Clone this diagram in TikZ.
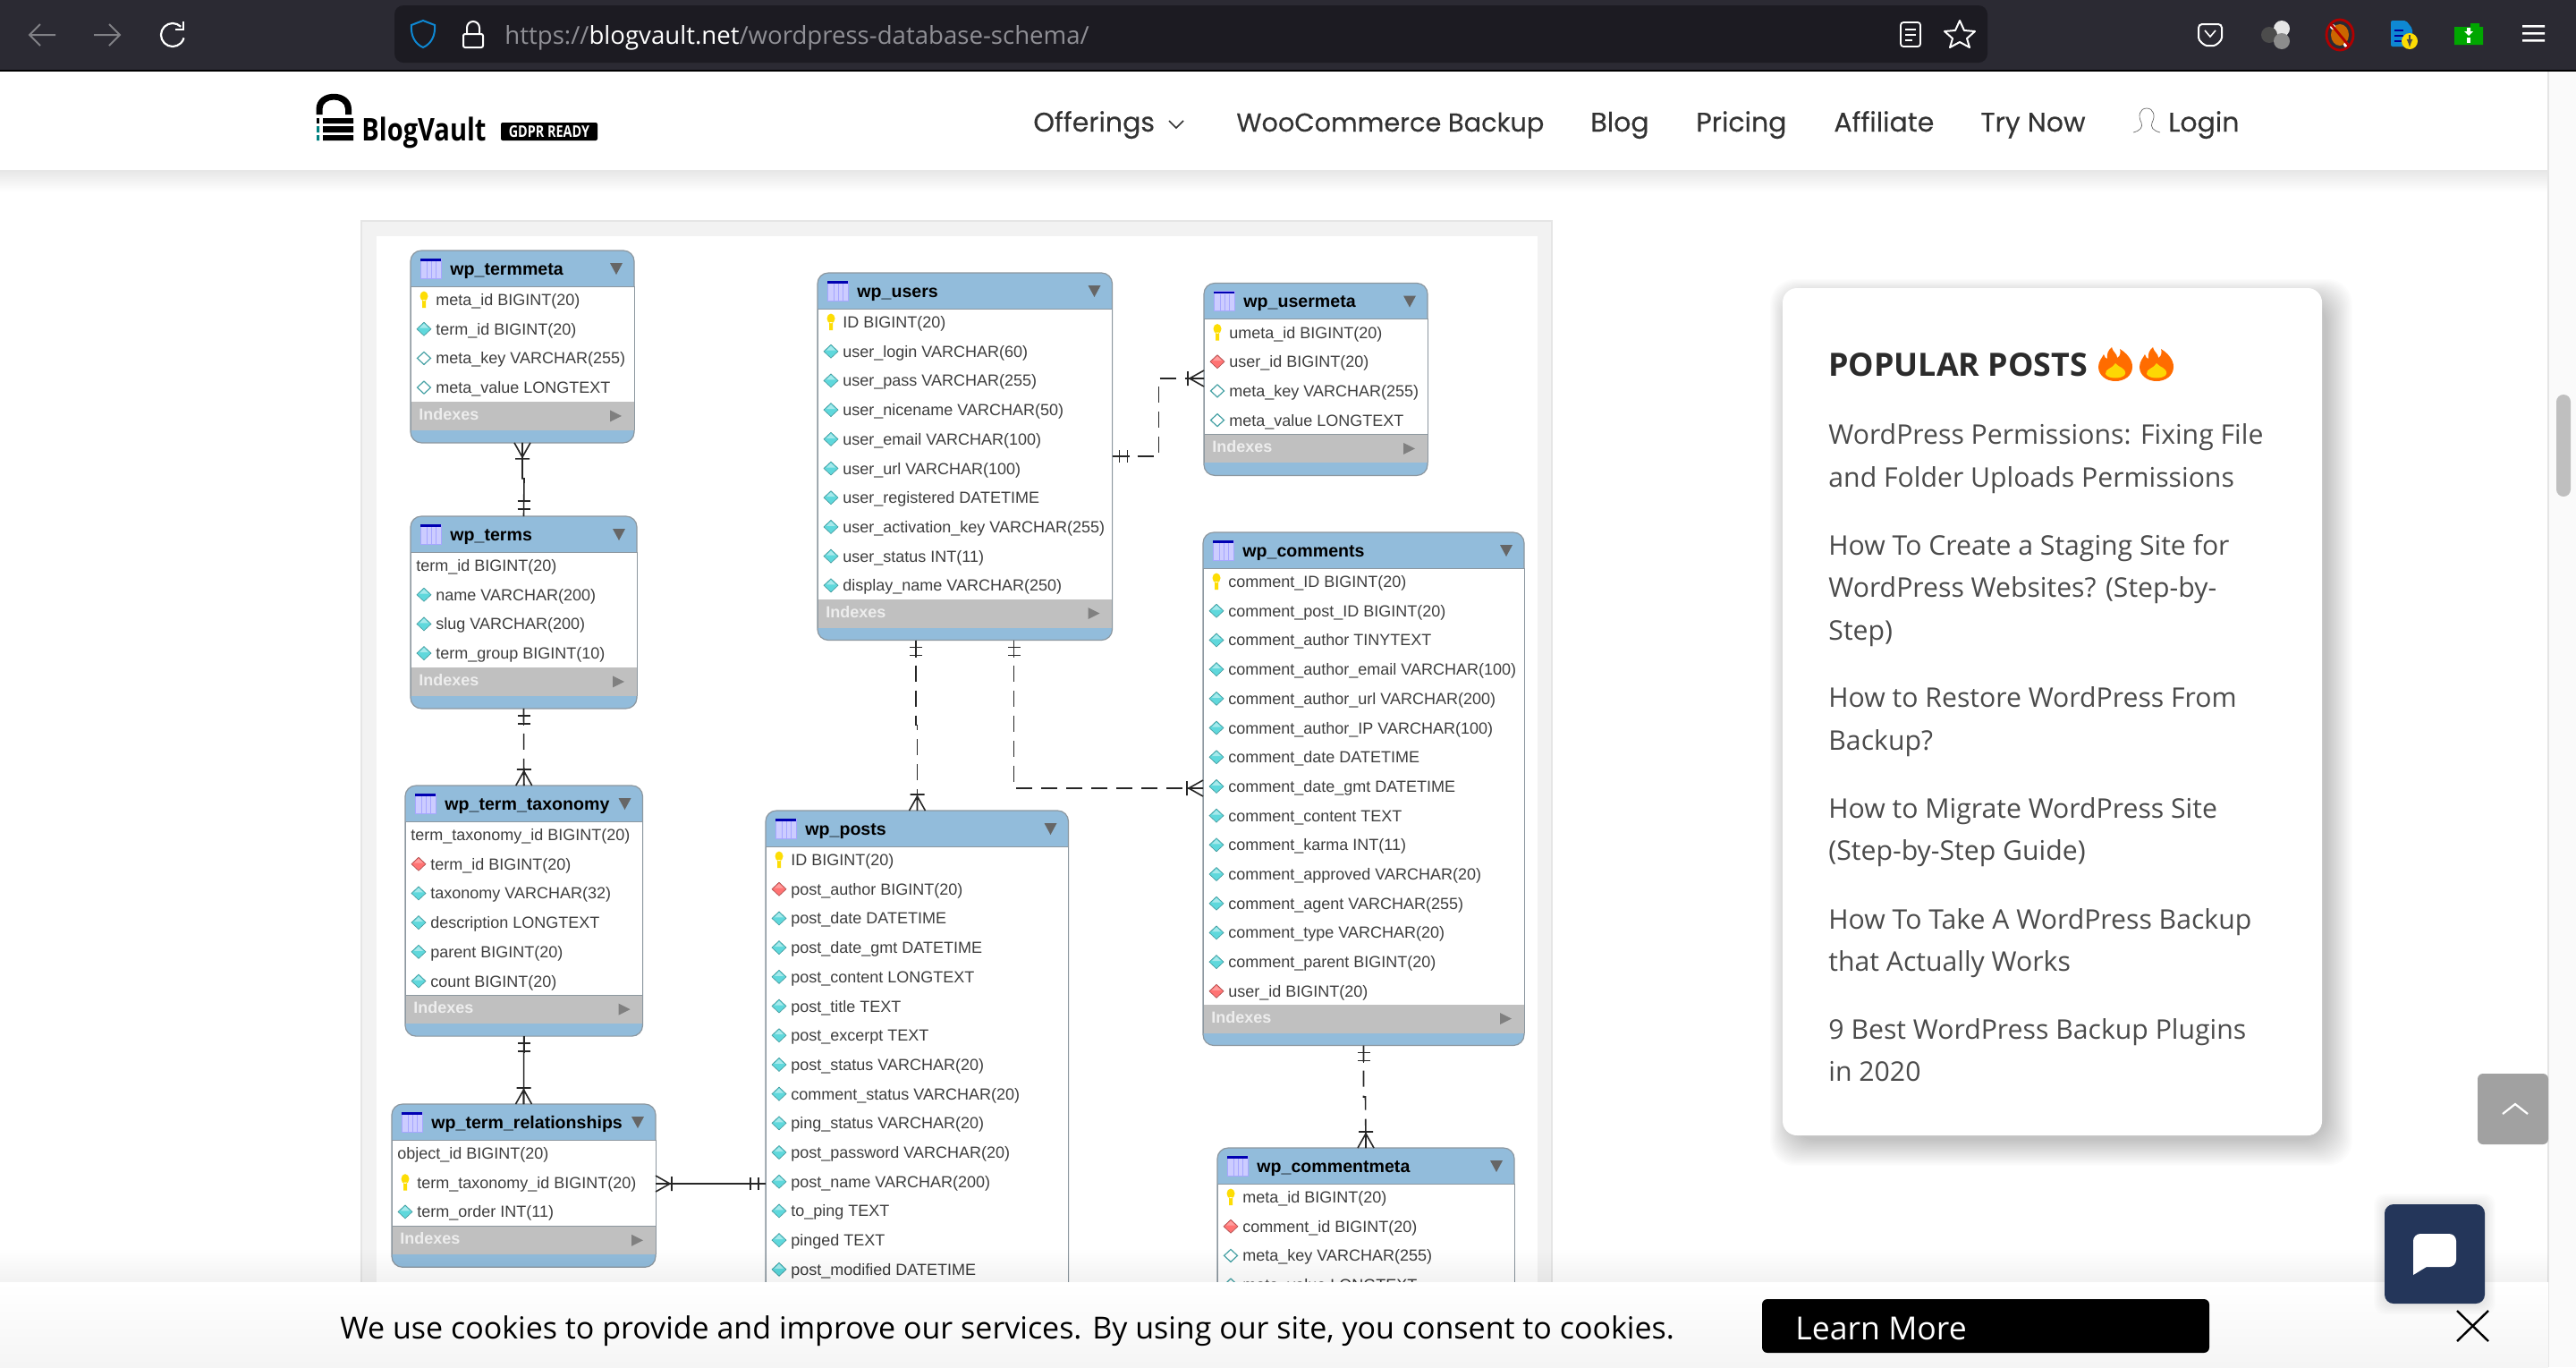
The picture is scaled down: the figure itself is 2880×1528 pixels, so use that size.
\documentclass[tikz,border=0pt]{standalone}
\usepackage{fontspec}
\usepackage{graphicx}
\usetikzlibrary{arrows}
\newfontfamily\erdfont{Liberation Sans}
\newfontfamily\pagefont{Open Sans}
\newfontfamily\navfont[FakeBold=0.25]{Poppins}
\definecolor{toolbar}{HTML}{2B2A33}
\definecolor{urlbox}{HTML}{1C1B22}
\definecolor{urlgrey}{HTML}{8F8F95}
\definecolor{tablehead}{HTML}{92BCDB}
\definecolor{tableedge}{HTML}{8C979F}
\definecolor{bandgrey}{HTML}{C0C0C0}
\definecolor{rowink}{HTML}{3E3E3E}
\definecolor{aqua}{HTML}{5FD8DC}
\definecolor{navink}{HTML}{333333}
\definecolor{postink}{HTML}{4B4B4B}
\definecolor{chatblue}{HTML}{24365A}
\tikzset{
  erd box/.style={shape=rectangle,draw=tableedge,fill=tablehead,rounded corners=6pt,line width=0.6pt,inner sep=0pt,outer sep=0pt,anchor=north west},
  erd title/.style={anchor=base west,inner sep=0pt,text=black,font=\erdfont\bfseries\fontsize{9.8}{12}\selectfont},
  erd row/.style={anchor=base west,inner sep=0pt,text=rowink,font=\erdfont\fontsize{9}{11}\selectfont},
  erd band/.style={anchor=base west,inner sep=0pt,text=white!93!black,font=\erdfont\bfseries\fontsize{9}{11}\selectfont},
  erd solid/.style={draw=black!85,line width=0.8pt},
  erd dashed/.style={draw=black!85,line width=0.8pt,dash pattern=on 9pt off 5pt},
  nav item/.style={anchor=base west,inner sep=0pt,text=navink,font=\navfont\fontsize{15}{18}\selectfont},
  post line/.style={anchor=base west,inner sep=0pt,text=postink,font=\pagefont\fontsize{15.1}{18}\selectfont},
  crowfoot/.pic={\draw[erd solid] (0,-9) -- (16,0) -- (0,9) (0,0) -- (18,0) (18,-8) -- (18,8);},
  twobars/.pic={\draw[erd solid] (0,0) -- (19,0) (8,-7) -- (8,7) (17,-7) -- (17,7);},
  keyicon/.pic={\fill[yellow!80!orange] (0,-4) ellipse (4.5 and 5.5) (-2,0) rectangle (2,9);},
  fillicon/.pic={\draw[fill=aqua,draw=aqua!70!black,line width=0.3pt] (-8,0) -- (0,-7.5) -- (8,0) -- (0,7.5) -- cycle;\fill[white,opacity=.45] (-5,-1) -- (0,-6) -- (5,-1) -- cycle;},
  redicon/.pic={\draw[fill=red!55!white,draw=red!50!black!70,line width=0.3pt] (-8,0) -- (0,-7.5) -- (8,0) -- (0,7.5) -- cycle;\fill[white,opacity=.3] (-5,-1) -- (0,-6) -- (5,-1) -- cycle;},
  openicon/.pic={\draw[fill=white,draw=aqua!75!black,line width=0.6pt] (-7.5,0) -- (0,-7) -- (7.5,0) -- (0,7) -- cycle;},
  noicon/.pic={},
  flame/.pic={
    \fill[orange!85!red] (-4,-19) .. controls (-2,-12) and (2,-12) .. (2,-7) .. controls (6,-9) and (6,-14) .. (5,-17) .. controls (13,-12) and (19,-5) .. (19,3) .. controls (19,13) and (10,19) .. (0,19) .. controls (-11,19) and (-19,12) .. (-19,3) .. controls (-19,-3) and (-15,-7) .. (-13,-11) .. controls (-12,-8) and (-11,-6) .. (-9,-6) .. controls (-10,-11) and (-8,-16) .. (-4,-19) -- cycle;
    \fill[yellow!75!orange] (0,-1) .. controls (4,4) and (12,4) .. (11,11) .. controls (9,17) and (-9,17) .. (-11,11) .. controls (-12,5) and (-3,5) .. (0,-1) -- cycle;},
}
% one table: name, left, right, top, number of rows, title, rows
\newcommand{\erdtable}[7]{
  \pgfmathsetmacro{\erdw}{(#3-#2)/2}
  \pgfmathsetmacro{\erdh}{(84.5+32.6*#5)/2}
  \pgfmathsetmacro{\erdhead}{#4+40}
  \pgfmathsetmacro{\erdband}{#4+39+32.6*#5}
  \node[erd box,minimum width=\erdw pt,minimum height=\erdh pt] (#1) at (#2,#4) {};
  \draw[fill=white,draw=tableedge,line width=0.5pt] (#2,\erdhead) rectangle (#3,\erdband);
  \fill[bandgrey] (#2,\erdband) rectangle (#3,\erdband+31.5);
  \draw[tableedge,line width=0.5pt] (#2,\erdband) -- (#2,\erdband+31.5) (#3,\erdband) -- (#3,\erdband+31.5);
  % small table icon and the two triangles
  \draw[fill=blue!20!white,draw=blue!35!white,line width=0.3pt] (#2+11,#4+9) rectangle (#2+34,#4+31);
  \fill[blue!70!black] (#2+11,#4+9) rectangle (#2+34,#4+11.5);
  \draw[blue!35!white,line width=0.3pt] (#2+18,#4+12) -- (#2+18,#4+31) (#2+23,#4+12) -- (#2+23,#4+31) (#2+28,#4+12) -- (#2+28,#4+31);
  \fill[black!60] (#3-27,#4+14) -- (#3-13,#4+14) -- (#3-20,#4+27) -- cycle;
  \fill[black!50] (#3-27,\erdband+9) -- (#3-14,\erdband+15.5) -- (#3-27,\erdband+22) -- cycle;
  \node[erd title] (#1-title) at (#2+44,#4+27) {#6};
  \node[erd band] (#1-band) at (#2+9,\erdband+20) {Indexes};
  \foreach \kind/\txt [count=\i] in {#7}{
    \pgfmathsetmacro{\rowy}{\erdhead+15+32.7*(\i-1)}
    \def\nokind{noicon}
    \ifx\kind\nokind\def\rowx{6}\else\def\rowx{28}\fi
    \pic at (#2+15,\rowy) {\kind};
    \node[erd row] (#1-\i) at (#2+\rowx,\rowy+6.5) {\txt};
  }
}
\begin{document}
\begin{tikzpicture}[x=0.5pt,y=-0.5pt]
\useasboundingbox (0,0) rectangle (2880,1528);
\fill[white] (0,0) rectangle (2880,1528);
% article picture frame
\draw[fill=black!5,draw=black!10,line width=1pt] (404,247) rectangle (1735,1500);
\fill[white] (421,264) rectangle (1719,1500);

\erdtable{wp_termmeta}{459}{709}{280}{4}{wp\_termmeta}{keyicon/meta\_id BIGINT(20),fillicon/term\_id BIGINT(20),openicon/meta\_key VARCHAR(255),openicon/meta\_value LONGTEXT}
\erdtable{wp_terms}{459}{712}{577}{4}{wp\_terms}{noicon/term\_id BIGINT(20),fillicon/name VARCHAR(200),fillicon/slug VARCHAR(200),fillicon/term\_group BIGINT(10)}
\erdtable{wp_term_taxonomy}{453}{718.5}{878}{6}{wp\_term\_taxonomy}{noicon/term\_taxonomy\_id BIGINT(20),redicon/term\_id BIGINT(20),fillicon/taxonomy VARCHAR(32),fillicon/description LONGTEXT,fillicon/parent BIGINT(20),fillicon/count BIGINT(20)}
\erdtable{wp_term_relationships}{438}{733}{1234}{3}{wp\_term\_relationships}{noicon/object\_id BIGINT(20),keyicon/term\_taxonomy\_id BIGINT(20),fillicon/term\_order INT(11)}
\erdtable{wp_users}{914}{1243.5}{305}{10}{wp\_users}{keyicon/ID BIGINT(20),fillicon/user\_login VARCHAR(60),fillicon/user\_pass VARCHAR(255),fillicon/user\_nicename VARCHAR(50),fillicon/user\_email VARCHAR(100),fillicon/user\_url VARCHAR(100),fillicon/user\_registered DATETIME,fillicon/user\_activation\_key VARCHAR(255),fillicon/user\_status INT(11),fillicon/display\_name VARCHAR(250)}
\erdtable{wp_posts}{856}{1194.5}{906}{15}{wp\_posts}{keyicon/ID BIGINT(20),redicon/post\_author BIGINT(20),fillicon/post\_date DATETIME,fillicon/post\_date\_gmt DATETIME,fillicon/post\_content LONGTEXT,fillicon/post\_title TEXT,fillicon/post\_excerpt TEXT,fillicon/post\_status VARCHAR(20),fillicon/comment\_status VARCHAR(20),fillicon/ping\_status VARCHAR(20),fillicon/post\_password VARCHAR(20),fillicon/post\_name VARCHAR(200),fillicon/to\_ping TEXT,fillicon/pinged TEXT,fillicon/post\_modified DATETIME}
\erdtable{wp_usermeta}{1346}{1596}{316.5}{4}{wp\_usermeta}{keyicon/umeta\_id BIGINT(20),redicon/user\_id BIGINT(20),openicon/meta\_key VARCHAR(255),openicon/meta\_value LONGTEXT}
\erdtable{wp_comments}{1345}{1704}{595}{15}{wp\_comments}{keyicon/comment\_ID BIGINT(20),fillicon/comment\_post\_ID BIGINT(20),fillicon/comment\_author TINYTEXT,fillicon/comment\_author\_email VARCHAR(100),fillicon/comment\_author\_url VARCHAR(200),fillicon/comment\_author\_IP VARCHAR(100),fillicon/comment\_date DATETIME,fillicon/comment\_date\_gmt DATETIME,fillicon/comment\_content TEXT,fillicon/comment\_karma INT(11),fillicon/comment\_approved VARCHAR(20),fillicon/comment\_agent VARCHAR(255),fillicon/comment\_type VARCHAR(20),fillicon/comment\_parent BIGINT(20),redicon/user\_id BIGINT(20)}
\erdtable{wp_commentmeta}{1361}{1693}{1283}{4}{wp\_commentmeta}{keyicon/meta\_id BIGINT(20),redicon/comment\_id BIGINT(20),openicon/meta\_key VARCHAR(255),openicon/meta\_value LONGTEXT}

\draw[erd solid] (wp_termmeta.south) -- ++(0,40) -- ++(2,0) -- (wp_terms.north);
\pic[rotate=-90] at (wp_termmeta.south) {crowfoot};
\pic[rotate=90] at (wp_terms.north) {twobars};
\draw[erd dashed] (wp_terms.south) -- (wp_term_taxonomy.north);
\pic[rotate=-90] at (wp_terms.south) {twobars};
\pic[rotate=90] at (wp_term_taxonomy.north) {crowfoot};
\draw[erd solid] (wp_term_taxonomy.south) -- (wp_term_relationships.north);
\pic[rotate=-90] at (wp_term_taxonomy.south) {twobars};
\pic[rotate=90] at (wp_term_relationships.north) {crowfoot};
\draw[erd solid] (wp_term_relationships.east |- 0,1323) -- (wp_posts.west |- 0,1323);
\pic at (wp_term_relationships.east |- 0,1323) {crowfoot};
\pic[rotate=180] at (wp_posts.west |- 0,1323) {twobars};
\draw[erd dashed] (wp_users.south -| 1024,0) -- ++(0,95) -- ++(1.5,0) -- (wp_posts.north -| 1025.5,0);
\pic[rotate=-90] at (wp_users.south -| 1024,0) {twobars};
\pic[rotate=90] at (wp_posts.north -| 1025.5,0) {crowfoot};
\draw[erd dashed] (wp_users.south -| 1133.5,0) |- (wp_comments.west |- 0,881);
\pic[rotate=-90] at (wp_users.south -| 1133.5,0) {twobars};
\pic[rotate=180] at (wp_comments.west |- 0,881) {crowfoot};
\draw[erd dashed] (wp_users.east |- 0,510) -- (1295.5,510) |- (wp_usermeta.west |- 0,423);
\pic at (wp_users.east |- 0,510) {twobars};
\pic[rotate=180] at (wp_usermeta.west |- 0,423) {crowfoot};
\draw[erd dashed] (wp_comments.south) -- ++(0,57.5) -- ++(2,0) -- (wp_commentmeta.north);
\pic[rotate=-90] at (wp_comments.south) {twobars};
\pic[rotate=90] at (wp_commentmeta.north) {crowfoot};

% browser bar
\fill[toolbar] (0,0) rectangle (2880,78);
\fill[black] (0,78) rectangle (2880,80);
\fill[urlbox,rounded corners=5pt] (441,6) rectangle (2222,70);
\draw[urlgrey!90!black,line width=1pt] (33,39) -- (62,39) (45,27) -- (33,39) -- (45,51);
\draw[urlgrey!90!black,line width=1pt] (105,39) -- (134,39) (122,27) -- (134,39) -- (122,51);
\draw[white,line width=1.1pt] (202.2,29.8) arc (-45:-345:13);
\draw[white,line width=1.1pt] (205,24) -- (205,33) -- (196,33);
\draw[cyan!70!blue,line width=1pt] (473,23) -- (486,28) .. controls (487,40) and (482,49) .. (473,53) .. controls (464,49) and (459,40) .. (460,28) -- cycle;
\draw[white,line width=1pt,rounded corners=1pt] (518,38) rectangle (540,53);
\draw[white,line width=1pt] (522,38) -- (522,31) arc (180:360:7) -- (536,38);
\node[anchor=base west,inner sep=0pt,font=\pagefont\fontsize{13.8}{16}\selectfont,text=urlgrey] (urltext) at (564,49) {https://\textcolor{white}{blogvault.net}/wordpress-database-schema/};
\draw[white,line width=0.9pt,rounded corners=1.5pt] (2125,25) rectangle (2147,52);
\draw[white,line width=0.9pt] (2130,33) -- (2142,33) (2130,39) -- (2142,39) (2130,45) -- (2138,45);
\draw[white,line width=1pt,line join=round] (2191,23) -- (2196,34) -- (2208,35) -- (2199,43) -- (2202,53) -- (2191,47) -- (2180,53) -- (2183,43) -- (2174,35) -- (2186,34) -- cycle;
\draw[white,line width=1pt,rounded corners=2pt] (2458,27) -- (2484,27) -- (2484,38) .. controls (2484,46) and (2477,51) .. (2471,51) .. controls (2465,51) and (2458,46) .. (2458,38) -- cycle;
\draw[white,line width=0.8pt] (2465,34) -- (2471,41) -- (2477,34);
\fill[black!10] (2551,32) circle (9);
\fill[black!70] (2537,39) circle (9);
\fill[black!45] (2551,46) circle (9);
\fill[orange!80!black] (2616,39) ellipse (10 and 12);
\fill[white] (2608,30) circle (3) (2623,50) circle (3);
\draw[red!70!black,line width=1.4pt] (2616,39) ellipse (15 and 17) (2606,27) -- (2626,51);
\fill[cyan!70!blue,rounded corners=1pt] (2673,23) -- (2690,23) -- (2697,32) -- (2697,52) -- (2673,52) -- cycle;
\draw[blue!60!black,line width=0.8pt] (2677,34) -- (2687,34) (2677,40) -- (2687,40) (2677,46) -- (2685,46);
\fill[yellow!80!orange] (2694,46) circle (9);
\draw[black!70,line width=0.6pt,-latex] (2694,39) -- (2694,53);
\fill[green!65!black] (2744,30) rectangle (2776,50) (2762,26) rectangle (2772,30);
\fill[white] (2758,31) rectangle (2762,35) (2755,35) -- (2765,35) -- (2760,40) -- cycle;
\fill[white] (2758,42) rectangle (2762,48);
\fill[white] (2820,28) rectangle (2845,30.5) (2820,36) rectangle (2845,38.5) (2820,44) rectangle (2845,46.5);

% site header
\foreach \i in {1,...,12}
  \fill[black,opacity=.006] (0,190) rectangle (2849,190+2*\i);
\fill[black] (353.5,128) -- (353.5,122) .. controls (353.5,99) and (393,99) .. (393,122) -- (393,128) -- (386,128) -- (386,122) .. controls (386,108) and (360.5,108) .. (360.5,122) -- (360.5,128) -- cycle;
\fill[black] (361,132) rectangle (395,138) (361,141) rectangle (395,148) (361,151) rectangle (395,157);
\fill[black] (354,132) rectangle (357,138);
\fill[teal] (354,141) rectangle (357,148) (354,151) rectangle (357,157);
\node[anchor=base west,inner sep=0pt,font=\pagefont\bfseries\fontsize{17.5}{20}\selectfont,text=black] (logotext) at (404,157) {\scalebox{0.83}[1]{BlogVault}};
\node[anchor=center,minimum width=54pt,minimum height=10pt,inner sep=0pt,fill=black,rounded corners=1pt,text=white,font=\pagefont\bfseries\fontsize{9}{10}\selectfont] (gdpr) at (614,147) {\scalebox{0.8}[1]{GDPR READY}};
\node[nav item] (offerings) at (1155,147) {Offerings};
\draw[navink,line width=0.8pt] (1307,135) -- (1315,143) -- (1323,135);
\node[nav item,font=\navfont\fontsize{14.4}{18}\selectfont] (woo) at (1382,147) {WooCommerce Backup};
\node[nav item] (blog) at (1778,147) {Blog};
\node[nav item] (pricing) at (1896,147) {Pricing};
\node[nav item] (affiliate) at (2050,147) {Affiliate};
\node[nav item] (trynow) at (2214,147) {Try Now};
\draw[black!60,line width=0.35pt] (2385,148) .. controls (2393,146) and (2396,142) .. (2394,137) .. controls (2390,130) and (2392,121) .. (2400,121) .. controls (2408,121) and (2410,130) .. (2406,137) .. controls (2404,142) and (2407,146) .. (2415,148);
\node[nav item] (login) at (2424,147) {Login};

% popular posts card
\foreach \i in {1,...,20}
  \fill[black,opacity=.011,rounded corners=14pt] (1993+10-\i*1.2,322+14-\i*1.2) rectangle (2596+4+\i*1.5,1269+4+\i*1.5);
\fill[white,rounded corners=8pt] (1993,322) rectangle (2596,1269);
\node[anchor=base west,inner sep=0pt,text=black!83,font=\pagefont\bfseries\fontsize{17.9}{21}\selectfont] (poptitle) at (2044,420) {POPULAR POSTS};
\pic at (2365,407) {flame};
\pic at (2411,407) {flame};
\foreach \ypos/\txt [count=\i] in {496/WordPress Permissions: Fixing File,544/and Folder Uploads Permissions,620/How To Create a Staging Site for,667/WordPress Websites? (Step-by-,715/Step),790/How to Restore WordPress From,838/Backup?,914/How to Migrate WordPress Site,961/(Step-by-Step Guide),1038/How To Take A WordPress Backup,1085/that Actually Works,1161/9 Best WordPress Backup Plugins,1208/in 2020}
  \node[post line] (post-\i) at (2044,\ypos) {\txt};

% scrollbar and back to top
\fill[black!2] (2849,80) rectangle (2880,1528);
\draw[black!10,line width=0.6pt] (2849,80) -- (2849,1528);
\fill[black!25,rounded corners=4pt] (2858,441) rectangle (2874,555);
\fill[black!37,rounded corners=3pt] (2770,1200) rectangle (2849,1279);
\draw[white,line width=1.1pt] (2798,1245) -- (2812,1234) -- (2826,1245);

% cookie bar
\foreach \i in {1,...,12}
  \fill[black,opacity=.004] (0,1433-3*\i) rectangle (2849,1433);
\shade[top color=white,bottom color=black!4] (0,1433) rectangle (2849,1528);
\node[anchor=base west,inner sep=0pt,text=black,font=\pagefont\fontsize{17}{20}\selectfont] (cookietext) at (380,1496.5) {We use cookies to provide and improve our services. By using our site, you consent to cookies.};
\fill[black,rounded corners=3pt] (1970,1452) rectangle (2470,1512);
\node[anchor=base west,inner sep=0pt,text=white,font=\pagefont\fontsize{17.8}{21}\selectfont] (learnmore) at (2007,1497.5) {Learn More};
\draw[black,line width=1.2pt] (2747,1465) -- (2782,1499) (2782,1465) -- (2747,1499);
\foreach \i in {1,...,8}
  \fill[black,opacity=.012,rounded corners=6pt] (2666-\i*1.5,1346-\i*1.5) rectangle (2778+\i*1.5,1457+\i*1.5);
\fill[chatblue,rounded corners=5pt] (2666,1346) rectangle (2778,1457);
\fill[white,rounded corners=4pt] (2698,1379) rectangle (2746,1416);
\fill[white] (2698,1408) -- (2698,1425) -- (2716,1414) -- cycle;
\end{tikzpicture}
\end{document}
